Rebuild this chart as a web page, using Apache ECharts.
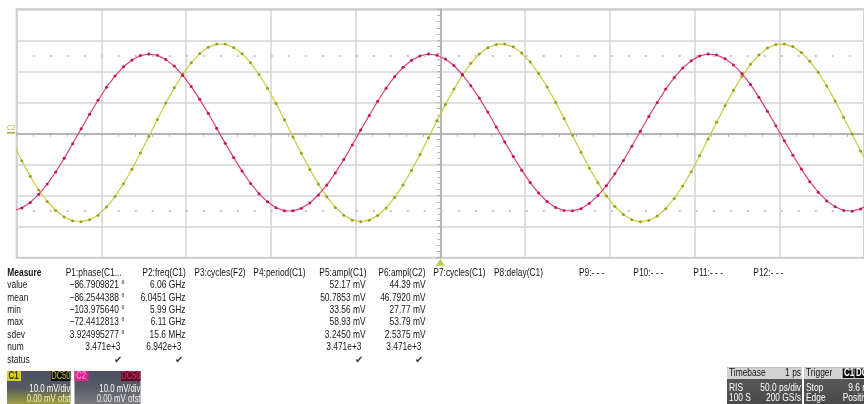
<!DOCTYPE html>
<html><head><meta charset="utf-8">
<script src="https://cdn.jsdelivr.net/npm/echarts@6/dist/echarts.min.js"></script>
<style>html,body{margin:0;padding:0;background:#fff}#c{width:864px;height:404px}</style>
</head><body><div id="c"></div>
<script>
// ---- waveform samples (time in ps, 5 ps sampling; voltage in mV) ----
const sampleTimes = [-252,-247,-242,-237,-232,-227,-222,-217,-212,-207,-202,
  -197,-192,-187,-182,-177,-172,-167,-162,-157,-152,
  -147,-142,-137,-132,-127,-122,-117,-112,-107,-102,
  -97,-92,-87,-82,-77,-72,-67,-62,-57,-52,
  -47,-42,-37,-32,-27,-22,-17,-12,-7,-2,
  3,8,13,18,23,28,33,38,43,48,
  53,58,63,68,73,78,83,88,93,98,
  103,108,113,118,123,128,133,138,143,148,
  153,158,163,168,173,178,183,188,193,198,
  203,208,213,218,223,228,233,238,243,248,
  253];
const c1Values = [-3.2,-8.8,-13.8,-18.2,-21.9,-24.8,-26.9,-28.1,-28.4,-27.8,-26.3,
  -23.7,-20.3,-16.2,-11.5,-6.3,-1.0,4.5,9.8,14.7,19.1,
  22.8,25.8,27.8,28.8,28.8,27.7,25.7,22.8,19.0,14.6,
  9.7,4.4,-1.1,-6.4,-11.6,-16.3,-20.4,-23.8,-26.3,-27.9,
  -28.4,-27.9,-26.4,-24.0,-20.6,-16.6,-11.9,-6.8,-1.4,4.1,
  9.3,14.3,18.8,22.6,25.6,27.6,28.7,28.8,27.9,25.9,
  23.0,19.3,15.0,10.1,4.8,-0.6,-6.0,-11.2,-15.9,-20.1,
  -23.5,-26.1,-27.8,-28.4,-28.0,-26.6,-24.2,-20.9,-16.9,-12.3,
  -7.2,-1.8,3.6,8.9,13.9,18.4,22.3,25.3,27.5,28.7,
  28.8,28.0,26.1,23.3,19.7,15.3,10.5,5.2,-0.2,-5.6,
  -10.8];
const c2Values = [-24.9,-24.0,-22.2,-19.6,-16.3,-12.4,-8.0,-3.3,1.5,6.2,10.7,
  14.9,18.5,21.5,23.7,25.1,25.6,25.2,23.8,21.7,18.7,
  15.1,11.0,6.5,1.7,-3.1,-7.7,-12.1,-16.1,-19.4,-22.0,
  -23.9,-24.9,-24.9,-24.1,-22.4,-19.8,-16.6,-12.7,-8.4,-3.7,
  1.1,5.8,10.4,14.6,18.3,21.3,23.6,25.0,25.6,25.2,
  24.0,21.9,19.0,15.4,11.4,6.9,2.1,-2.7,-7.4,-11.8,
  -15.8,-19.2,-21.9,-23.8,-24.8,-24.9,-24.2,-22.5,-20.0,-16.8,
  -13.0,-8.7,-4.1,0.7,5.5,10.0,14.3,18.0,21.1,23.4,
  25.0,25.6,25.3,24.1,22.1,19.3,15.8,11.7,7.2,2.5,
  -2.3,-7.0,-11.4,-15.5,-18.9,-21.7,-23.6,-24.8,-25.0,-24.3,
  -22.7];
const cursorLevels = [25.2, -24.9];   // dotted cursor rows (mV)
const triggerTimes = [0];             // trigger marker (ps)
const timeRange = [-250, 250];        // 50 ps/div x 10
const voltRange = [-40, 40];          // 10 mV/div x 8

// ---- measurement table ----
const rowLabels = ['Measure','value','mean','min','max','sdev','num','status'];
const paramHeaders = ['P1:phase(C1...','P2:freq(C1)','P3:cycles(F2)','P4:period(C1)','P5:ampl(C1)','P6:ampl(C2)',
  'P7:cycles(C1)','P8:delay(C1)','P9:- - -','P10:- - -','P11:- - -','P12:- - -'];
const p1Values = ['\u221286.7909821 \u00b0','\u221286.2544388 \u00b0','\u2212103.975640 \u00b0','\u221272.4412813 \u00b0','3.924995277 \u00b0','3.471e+3','\u2714'];
const p2Values = ['6.06 GHz','6.0451 GHz','5.99 GHz','6.11 GHz','15.6 MHz','6.942e+3','\u2714'];
const p5Values = ['52.17 mV','50.7853 mV','33.56 mV','58.93 mV','3.2450 mV','3.471e+3','\u2714'];
const p6Values = ['44.39 mV','46.7920 mV','27.77 mV','53.79 mV','2.5375 mV','3.471e+3','\u2714'];
const channelInfo = [
  {name:'C1', coupling:'DC50', scale:'10.0 mV/div', offset:'0.00 mV ofst'},
  {name:'C2', coupling:'DC50', scale:'10.0 mV/div', offset:'0.00 mV ofst'}
];
const timebaseInfo = [['Timebase','1 ps'],['RIS','50.0 ps/div'],['100 S','200 GS/s']];
const triggerInfo = [['Trigger',''],['Stop','9.6 mV'],['Edge','Positive']];

// ---- layout / style ----
const FONT = "'Liberation Sans',Arial,sans-serif";
const f = (s, w) => (w ? w + ' ' : '') + s + 'px ' + FONT;
const SX = 0.8;   // condensed look of the scope UI font
const rowY = i => 272.7 + 12.47 * i;
const headerX = [65.7,142.3,194.3,253.3,319.3,378.3,433.3,494,579,633.3,693.3,753.3];
const valueCols = [{vals:p1Values, right:124.5},{vals:p2Values, right:185.5},{vals:p5Values, right:365.5},{vals:p6Values, right:425.5}];
const TXT = '#151515';

const g = [];
function txt(x, y, text, opt) {
  opt = opt || {};
  g.push({type:'text', x:x, y:y, scaleX: opt.sx || SX, silent:true, z:10,
    style:{text:text, font:opt.font || f(10.5), fill:opt.fill || TXT, align:opt.align || 'left', verticalAlign:'middle'}});
}
function rect(x, y, w, h, fill, z) {
  g.push({type:'rect', silent:true, z:z || 5, shape:{x:x, y:y, width:w, height:h}, style:{fill:fill}});
}
rowLabels.forEach((r, i) => txt(7.3, rowY(i), r, {font: i === 0 ? f(10.5, 'bold') : f(10.5)}));
paramHeaders.forEach((h, j) => txt(headerX[j], rowY(0), h));
valueCols.forEach(col => {
  col.vals.forEach((v, i) => {
    const row = i + 1;
    let off = 0;
    if (row === 6) off = -4;
    if (row === 7) off = -3;
    txt(col.right + off, rowY(row), v, {align:'right', font: row === 7 ? f(10) : f(10.5), fill: row === 7 ? '#333' : TXT, sx: row === 7 ? 1 : SX});
  });
});

// channel boxes
const chStyle = [
  {x:7, w:63.5, label:'#d6ce22', labelTxt:'#3a3a08', cpl:'#0c0c0c', cplTxt:'#c8c040',
   grad:[[0,'#4b5060'],[0.5,'#575b62'],[1,'#a4a43c']], offTxt:'#f4f0b0'},
  {x:74.5, w:66, label:'#e0208c', labelTxt:'#ff80c8', cpl:'#5a0a28', cplTxt:'#e8306c',
   grad:[[0,'#4b5060'],[0.5,'#5a5d66'],[1,'#7c7c80']], offTxt:'#eeeeee'}
];
channelInfo.forEach((c, i) => {
  const s = chStyle[i];
  rect(s.x, 371, s.w, 34, {type:'linear', x:0, y:0, x2:0, y2:1,
    colorStops:s.grad.map(p => ({offset:p[0], color:p[1]}))});
  rect(s.x, 371, 14, 10, s.label, 6);
  txt(s.x + 1.5, 376.2, c.name, {font:f(10, 'bold'), fill:s.labelTxt});
  rect(s.x + s.w - 19.5, 371, 19.5, 10, s.cpl, 6);
  txt(s.x + s.w - 9.7, 376.2, c.coupling, {font:f(10), fill:s.cplTxt, align:'center', sx:0.75});
  txt(s.x + s.w, 389, c.scale, {align:'right', fill:'#ffffff', font:f(10), sx:0.78});
  txt(s.x + s.w, 399.5, c.offset, {align:'right', fill:s.offTxt, font:f(10), sx:0.78});
});

// timebase / trigger boxes
function infoBox(x, w, rows, extra) {
  rect(x, 367.5, w, 37, {type:'linear', x:0, y:0, x2:0, y2:1,
    colorStops:[{offset:0, color:'#5c5c5c'}, {offset:1, color:'#4a4a4a'}]});
  rect(x, 367.5, w, 11.5, '#d2d2d2', 6);
  rows.forEach((r, i) => {
    const y = i === 0 ? 373.3 : 377.5 + 10.5 * i;
    const col = i === 0 ? '#111' : '#ffffff';
    txt(x + 2, y, r[0], {fill:col, font:f(10.5)});
    if (r[1]) {
      if (extra && extra.leftVal) txt(extra.leftVal[i], y, r[1], {fill:col, font:f(10.5)});
      else txt(x + w - 1, y, r[1], {fill:col, font:f(10.5), align:'right'});
    }
  });
}
infoBox(727, 75, timebaseInfo);
infoBox(804, 62, triggerInfo, {leftVal:[0, 848.3, 842.7]});
rect(842.7, 368.5, 11, 9.5, '#111', 7);
txt(844, 373.3, 'C1', {fill:'#fff', font:f(10, 'bold')});
rect(854.5, 368.5, 12, 9.5, '#111', 7);
txt(856, 373.3, 'DC', {fill:'#fff', font:f(10, 'bold')});

// C2 ground marker at left
txt(7, 128.3, 'C2', {fill:'#c8a028', font:f(7.5), sx:0.9});
g.push({type:'line', silent:true, z:10, shape:{x1:7, y1:132.8, x2:15, y2:132.8}, style:{stroke:'#a8a030', lineWidth:1.5}});

const chart = echarts.init(document.getElementById('c'), null, {renderer:'canvas'});
const gridCol = '#d4d4d4', centerCol = '#b2b2b2';
function centerAxis(base, inside) {
  return Object.assign({
    axisLabel:{show:false},
    axisLine:{show:true, onZero:true, onZeroAxisIndex:0, lineStyle:{color:centerCol, width:1.5}},
    axisTick:{show:true, inside:inside, length:3, lineStyle:{color:centerCol, width:1}},
    minorTick:{show:true, splitNumber:5, length:3, lineStyle:{color:centerCol, width:1}},
    minorSplitLine:{show:false}
  }, base);
}
chart.setOption({
  animation:false,
  backgroundColor:'#ffffff',
  grid:{left:16.7, top:9.3, width:850, height:248.4, show:true, borderColor:'#c6c6c6', borderWidth:2, backgroundColor:'#ffffff'},
  xAxis:[
    centerAxis({type:'value', min:timeRange[0], max:timeRange[1], interval:50,
      splitLine:{show:true, lineStyle:{color:gridCol, width:1.5}}}, false),
    centerAxis({type:'value', min:timeRange[0], max:timeRange[1], interval:50, splitLine:{show:false}}, true)
  ],
  yAxis:[
    centerAxis({type:'value', min:voltRange[0], max:voltRange[1], interval:10,
      splitLine:{show:true, lineStyle:{color:gridCol, width:1.5}}}, false),
    centerAxis({type:'value', min:voltRange[0], max:voltRange[1], interval:10, splitLine:{show:false}}, true)
  ],
  graphic:{elements:g},
  series:[
    {type:'line', name:'C1', xAxisIndex:0, yAxisIndex:0, z:3,
     data:sampleTimes.map((t, i) => [t, c1Values[i]]),
     symbol:'circle', symbolSize:3, showSymbol:true, showAllSymbol:true, clip:true, silent:true,
     lineStyle:{color:'#cbcb40', width:1.2}, itemStyle:{color:'#9e9e1e'}},
    {type:'line', name:'C2', xAxisIndex:0, yAxisIndex:0, z:4,
     data:sampleTimes.map((t, i) => [t, c2Values[i]]),
     symbol:'circle', symbolSize:3, showSymbol:true, showAllSymbol:true, clip:true, silent:true,
     lineStyle:{color:'#d8407c', width:1.2}, itemStyle:{color:'#c4105a'},
     markLine:{silent:true, symbol:['none','none'], label:{show:false}, animation:false,
       lineStyle:{color:'#c4c4c4', width:2, type:[2,15], dashOffset:1},
       data:cursorLevels.map(v => ({yAxis:v}))}},
    {type:'scatter', name:'trigger', xAxisIndex:0, yAxisIndex:0, clip:false, silent:true,
     data:triggerTimes.map(t => [t, voltRange[0]]),
     symbol:'triangle', symbolSize:[9,7], symbolOffset:[0,4.5], itemStyle:{color:'#a8c028'}}
  ]
});
</script></body></html>
